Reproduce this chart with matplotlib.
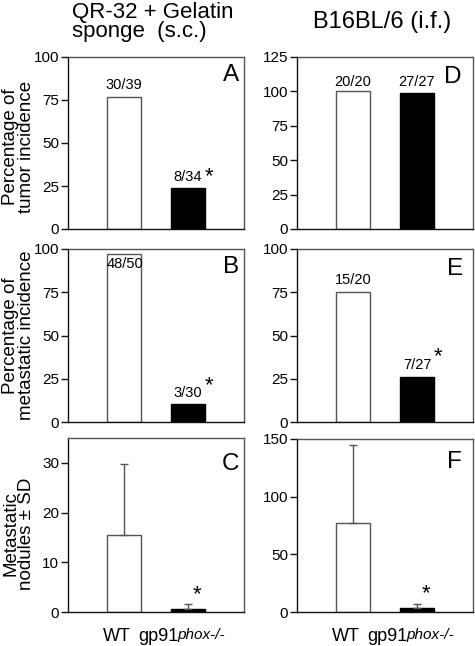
import matplotlib
matplotlib.use("Agg")
import matplotlib.pyplot as plt

plt.rcParams['font.family'] = ['Liberation Sans', 'DejaVu Sans']

# ---- data ----
groups = ['WT', 'gp91']
A_vals = [77, 24]
A_labels = ['30/39', '8/34']
B_vals = [97, 10.5]
B_labels = ['48/50', '3/30']
C_vals = [15.5, 0.7]
C_err = [14.2, 0.9]
D_vals = [100, 99]
D_labels = ['20/20', '27/27']
E_vals = [75, 26]
E_labels = ['15/20', '7/27']
F_vals = [77, 3.7]
F_err = [67.5, 3.5]

A_ticks = [0, 25, 50, 75, 100]
D_ticks = [0, 25, 50, 75, 100, 125]
C_ticks = [0, 10, 20, 30]
F_ticks = [0, 50, 100, 150]

W, H = 475, 646
fig = plt.figure(figsize=(W / 100, H / 100), dpi=100)


def px_axes(left, top, right, bottom):
    return fig.add_axes([left / W, 1 - bottom / H, (right - left) / W, (bottom - top) / H])


EDGE = '#555555'


def style(ax, ylim, ticks):
    ax.set_xlim(-0.875, 1.875)
    ax.set_ylim(*ylim)
    ax.set_yticks(ticks)
    ax.set_xticks([])
    for s in ['top', 'right']:
        ax.spines[s].set_color(EDGE)
        ax.spines[s].set_linewidth(1.0)
    for s in ['left', 'bottom']:
        ax.spines[s].set_color('#111111')
        ax.spines[s].set_linewidth(1.0)
    ax.tick_params(axis='y', length=5, width=1, pad=1.5, labelsize=11, color='#111111')


def bars(ax, vals):
    x = list(range(len(vals)))
    ax.bar(x, vals, width=0.53, color=['white', 'black'], edgecolor=[EDGE, 'black'], linewidth=1.0)


def letter(ax, ch, dx_px, dy_px):
    ax.annotate(ch, xy=(1, 1), xycoords='axes fraction', xytext=(-dx_px * 0.72, -dy_px * 0.72),
                textcoords='offset points', ha='right', va='top', fontsize=17.5)


def labels(ax, vals, labs, offs_px):
    for i, (v, lab) in enumerate(zip(vals, labs)):
        ax.annotate(lab, xy=(i, v), xytext=(0, offs_px[i] * 0.72), textcoords='offset points',
                    ha='center', va='baseline', fontsize=10.5)


def star(ax, xi, v, dx_px, dy_px):
    ax.annotate('*', xy=(xi, v), xytext=(dx_px * 0.72, dy_px * 0.72), textcoords='offset points',
                ha='center', va='center', fontsize=16)


def ylab(ax, text, ycen=0.5):
    ax.set_ylabel(text, fontsize=13.5, linespacing=0.95)
    ax.yaxis.set_label_coords(-0.28, ycen)
    ax.yaxis.label.set_va('center')


# ---- panels ----
axA = px_axes(68, 57, 244, 229)
axB = px_axes(68, 249, 244, 422)
axC = px_axes(68, 438, 244, 612)
axD = px_axes(297, 57, 473, 229)
axE = px_axes(297, 249, 473, 422)
axF = px_axes(297, 439, 473, 612)

# A
bars(axA, A_vals)
style(axA, (0, 100), A_ticks)
labels(axA, A_vals, A_labels, [7.5, 6.5])
star(axA, 1, A_vals[1], 21, 11)
letter(axA, 'A', 5, 7)
ylab(axA, 'Percentage of\ntumor incidence', 0.48)

# B
bars(axB, B_vals)
style(axB, (0, 100), A_ticks)
axB.annotate(B_labels[0], xy=(0, B_vals[0]), xytext=(1, -2), textcoords='offset points',
             ha='center', va='top', fontsize=10.5)
axB.annotate(B_labels[1], xy=(1, B_vals[1]), xytext=(0, 6.6 * 0.72), textcoords='offset points',
             ha='center', va='baseline', fontsize=10.5)
star(axB, 1, B_vals[1], 21, 18)
letter(axB, 'B', 5, 7)
ylab(axB, 'Percentage of\nmetastatic incidence', 0.5)

# C
bars(axC, C_vals)
axC.errorbar([0, 1], C_vals, yerr=[[0, 0], C_err], fmt='none', ecolor=EDGE, elinewidth=1,
             capsize=3, capthick=1)
style(axC, (0, 35), C_ticks)
star(axC, 1, C_vals[1], 9.5, 14)
letter(axC, 'C', 5, 15)
ylab(axC, 'Metastatic\nnodules \u00b1 SD', 0.45)

# D
bars(axD, D_vals)
style(axD, (0, 125), D_ticks)
labels(axD, D_vals, D_labels, [5, 7])
letter(axD, 'D', 11, 9)

# E
bars(axE, E_vals)
style(axE, (0, 100), A_ticks)
labels(axE, E_vals, E_labels, [8, 7.7])
star(axE, 1, E_vals[1], 21, 20)
letter(axE, 'E', 10, 9)

# F
bars(axF, F_vals)
axF.errorbar([0, 1], F_vals, yerr=[[0, 0], F_err], fmt='none', ecolor=EDGE, elinewidth=1,
             capsize=3, capthick=1)
style(axF, (0, 150), F_ticks)
star(axF, 1, F_vals[1], 9.5, 14)
letter(axF, 'F', 11, 12)

# x labels
for ax in (axC, axF):
    ax.annotate('WT', xy=(0, 0), xycoords=('data', 'axes fraction'), xytext=(-5, -21),
                textcoords='offset points', ha='center', va='baseline', fontsize=13)
    ax.annotate('gp91', xy=(1, 0), xycoords=('data', 'axes fraction'), xytext=(-36, -21),
                textcoords='offset points', ha='left', va='baseline', fontsize=13)
    ax.annotate('phox-/-', xy=(1, 0), xycoords=('data', 'axes fraction'), xytext=(-8, -19.5),
                textcoords='offset points', ha='left', va='baseline', fontsize=11, style='italic')

# titles
fig.text(72 / W, 1 - 18.3 / H, 'QR-32 + Gelatin', ha='left', va='baseline', fontsize=16)
fig.text(72 / W, 1 - 37.3 / H, 'sponge  (s.c.)', ha='left', va='baseline', fontsize=16)
fig.text(313 / W, 1 - 28 / H, 'B16BL/6 (i.f.)', ha='left', va='baseline', fontsize=17)

fig.savefig('out.png', dpi=100)
